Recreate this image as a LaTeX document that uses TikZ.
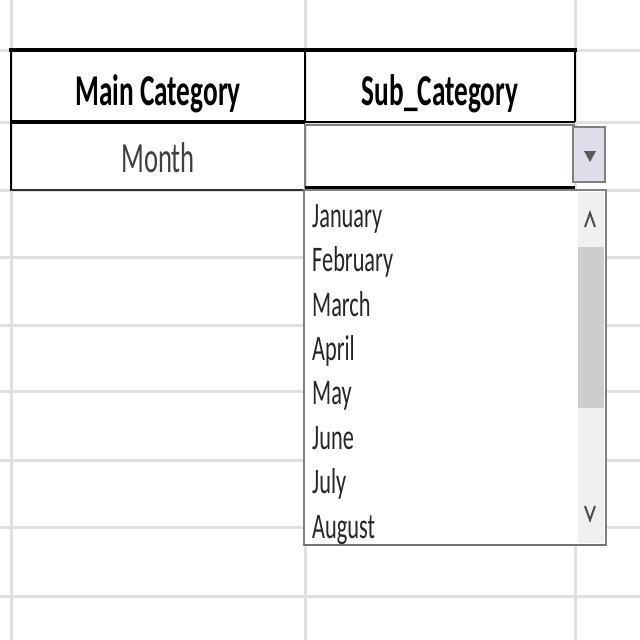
\documentclass[tikz,border=0pt]{standalone}
\usepackage{fontspec}
\setmainfont{Carlito}[FakeStretch=0.62]
\usetikzlibrary{positioning}

\definecolor{gridgray}{RGB}{224,224,224}
\definecolor{framegray}{RGB}{128,128,128}
\definecolor{trackgray}{RGB}{240,240,240}
\definecolor{thumbgray}{RGB}{205,205,205}
\definecolor{buttonfill}{RGB}{222,222,234}
\definecolor{textgray}{RGB}{64,64,64}

\begin{document}
\begin{tikzpicture}[
        x=1pt, y=-1pt,
        gridline/.style={gridgray, line width=3pt},
        border/.style={black, line width=2pt},
        heavy/.style={black, line width=4.5pt},
        header/.style={font=\fontsize{44}{48}\selectfont\bfseries, anchor=base, inner sep=0pt},
        cell/.style={font=\fontsize{43}{48}\selectfont, text=textgray, anchor=base, inner sep=0pt},
        item/.style={font=\fontsize{36}{40}\selectfont, text=black!85, anchor=north west, inner sep=0pt, text height=30pt, text depth=14pt},
        chevron/.style={black!70, line width=2pt}
    ]

    % Page
    \fill[white] (0,0) rectangle (640,640);
    \useasboundingbox (0,0) rectangle (640,640);

    % Sheet grid
    \foreach \y in {50,122,190,257,325,391,460,527,596}
        \draw[gridline] (0,\y) -- (640,\y);
    \foreach \x in {11,305,575}
        \draw[gridline] (\x,0) -- (\x,640);

    % Table borders
    \draw[heavy] (9,50) -- (577,50);
    \draw[border] (11,50) -- (11,191);
    \draw[border] (305,50) -- (305,122);
    \draw[border] (575,50) -- (575,122);
    \draw[black, line width=3.5pt] (11,122) -- (305,122);
    \draw[border] (305,122) -- (575,122);
    \draw[black!80, line width=2.5pt] (11,190) -- (305,190);

    % Selected cell
    \draw[framegray, line width=2pt] (305,188) -- (305,125) -- (575,125);
    \draw[black, line width=4pt] (305,188) -- (575,188);

    % Texts of the table
    \node[header] (main) at (158,105) {Main Category};
    \node[header] (sub) at (440,105) {Sub\_Category};
    \node[cell] (month) at (158,172) {Month};

    % Dropdown button
    \draw[framegray, line width=1.5pt, fill=buttonfill] (573,127) rectangle (605,182);
    \fill[black!65] (584,151) -- (596,151) -- (590,162) -- cycle;

    % Dropdown list
    \draw[framegray, line width=2.5pt, fill=white] (304,190) rectangle (606,545);
    \draw[black!55, line width=2pt] (304,545) -- (606,545);
    \fill[trackgray] (578,192) rectangle (604,543);
    \fill[thumbgray] (578,247) rectangle (604,408);
    \draw[chevron] (585,227) -- (590,213) -- (595,227);
    \draw[chevron] (585,506) -- (590,520) -- (595,506);

    % Months
    \node[item] (jan) at (312,197) {January};
    \node[item] (feb) [below=0pt of jan.south west, anchor=north west] {February};
    \node[item] (mar) [below=0pt of feb.south west, anchor=north west] {March};
    \node[item] (apr) [below=0pt of mar.south west, anchor=north west] {April};
    \node[item] (may) [below=0pt of apr.south west, anchor=north west] {May};
    \node[item] (jun) [below=0pt of may.south west, anchor=north west] {June};
    \node[item] (jul) [below=0pt of jun.south west, anchor=north west] {July};
    \node[item] (aug) [below=0pt of jul.south west, anchor=north west] {August};

\end{tikzpicture}
\end{document}
